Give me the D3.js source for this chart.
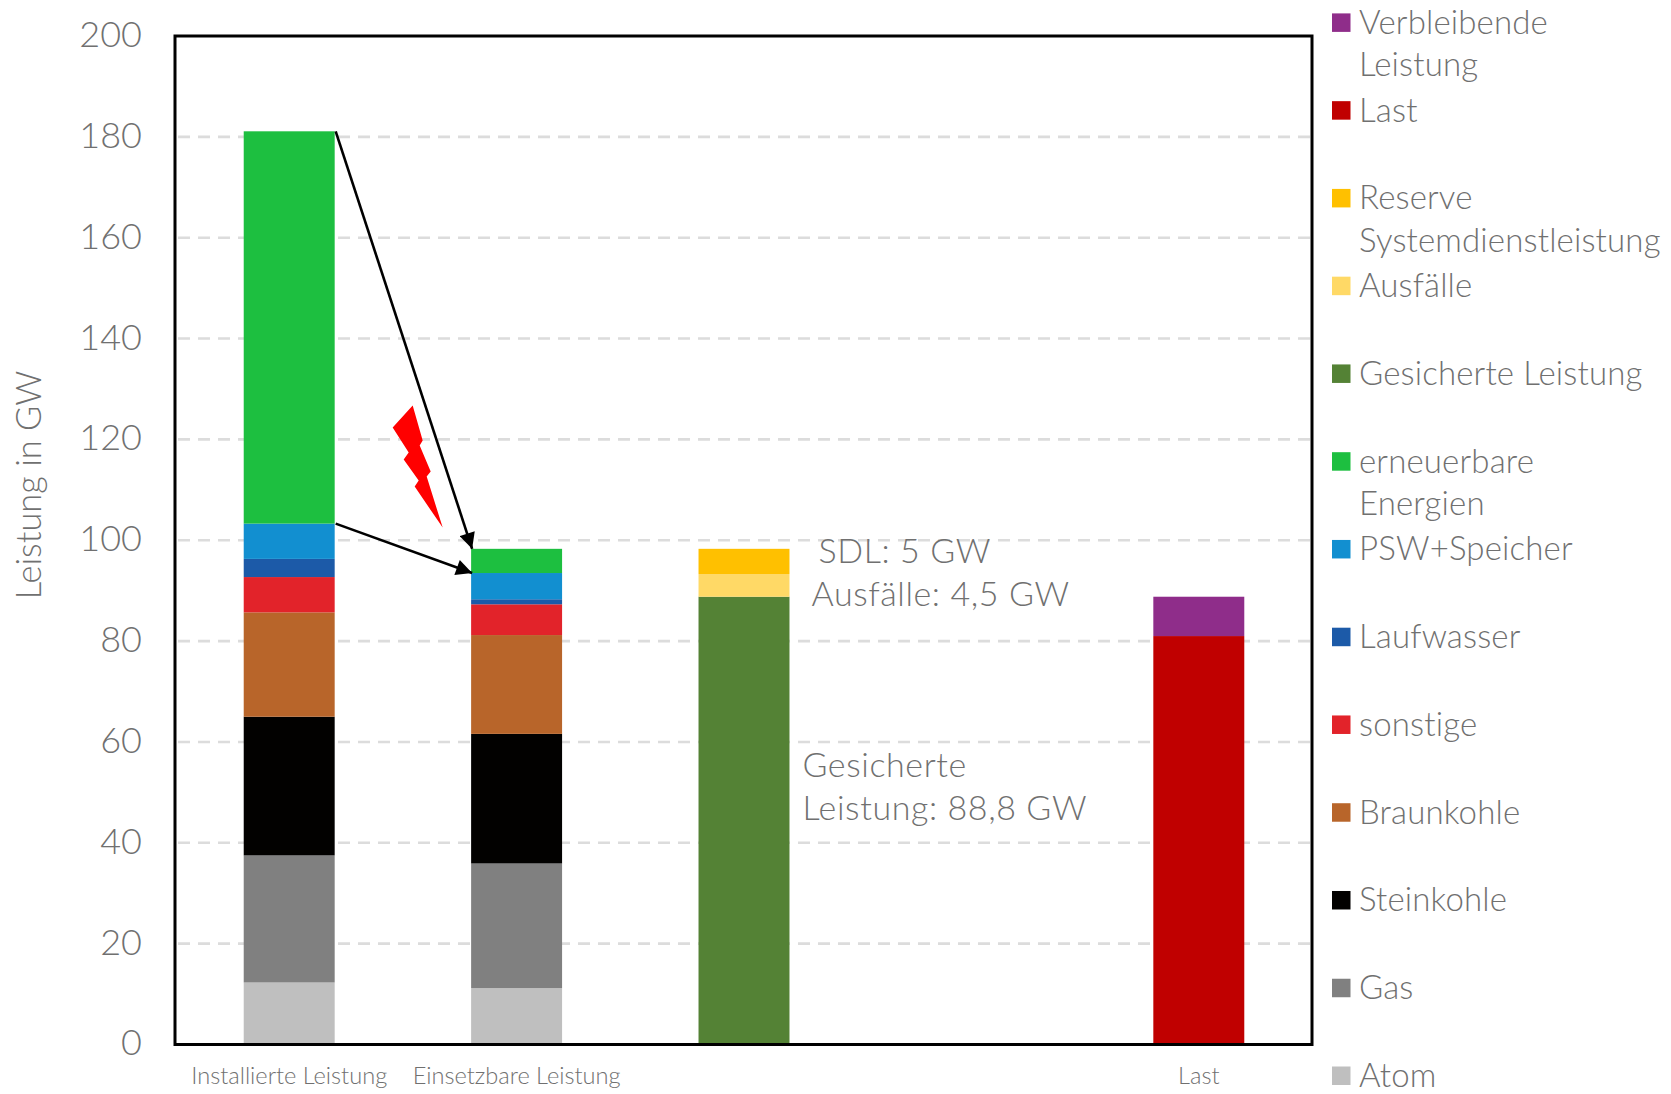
<!DOCTYPE html>
<html lang="de">
<head>
<meta charset="utf-8">
<title>Leistungsbilanz</title>
<script src="https://cdn.jsdelivr.net/npm/d3@7/dist/d3.min.js"></script>
<style>
  html, body { margin: 0; background: #fff; }
  svg { display: block; }
  text { font-family: Lato, "Open Sans", sans-serif; font-weight: 300; fill: #707070; }
</style>
</head>
<body>
<svg id="chart" width="1671" height="1094"></svg>
<script>
// Capacity balance: installed and usable capacity against secured capacity and load (GW)
const categories = ["Installierte Leistung", "Einsetzbare Leistung", "", "", "Last"];
const slots = ["a", "b", "c", "d", "e"];

const atom        = [12.3, 11.2, 0, 0, 0];
const gas         = [25.2, 24.7, 0, 0, 0];
const steinkohle  = [27.5, 25.7, 0, 0, 0];
const braunkohle  = [20.7, 19.6, 0, 0, 0];
const sonstige    = [7.0, 6.1, 0, 0, 0];
const laufwasser  = [3.6, 1.0, 0, 0, 0];
const speicher    = [7.0, 5.2, 0, 0, 0];
const erneuerbare = [77.8, 4.8, 0, 0, 0];
const gesichert   = [0, 0, 88.8, 0, 0];
const ausfaelle   = [0, 0, 4.5, 0, 0];
const reserve     = [0, 0, 5, 0, 0];
const lastValues  = [0, 0, 0, 0, 81.0];
const verbleibend = [0, 0, 0, 0, 7.8];

const seriesNames = ["Atom", "Gas", "Steinkohle", "Braunkohle", "sonstige", "Laufwasser",
  "PSW+Speicher", "erneuerbare Energien", "Gesicherte Leistung", "Ausfälle",
  "Reserve Systemdienstleistung", "Last", "Verbleibende Leistung"];
const seriesValues = [atom, gas, steinkohle, braunkohle, sonstige, laufwasser, speicher,
  erneuerbare, gesichert, ausfaelle, reserve, lastValues, verbleibend];
const seriesColors = ["#bfbfbf", "#808080", "#020100", "#b8652a", "#e2232a", "#1c5aa8",
  "#128fd0", "#1dbf40", "#548235", "#ffd966", "#ffc000", "#c00000", "#8f2d8a"];

const legendLines = [
  ["Verbleibende", "Leistung"], ["Last"], ["Reserve", "Systemdienstleistung"], ["Ausfälle"],
  ["Gesicherte Leistung"], ["erneuerbare", "Energien"], ["PSW+Speicher"], ["Laufwasser"],
  ["sonstige"], ["Braunkohle"], ["Steinkohle"], ["Gas"], ["Atom"]];
const legendColors = ["#8f2d8a", "#c00000", "#ffc000", "#ffd966", "#548235", "#1dbf40",
  "#128fd0", "#1c5aa8", "#e2232a", "#b8652a", "#020100", "#808080", "#bfbfbf"];

const yTicks = [0, 20, 40, 60, 80, 100, 120, 140, 160, 180, 200];
const notes = [
  { slot: "c", value: 95.4, dx: 29, text: "SDL: 5 GW" },
  { slot: "c", value: 86.9, dx: 22, text: "Ausfälle: 4,5 GW" },
  { slot: "c", value: 53.0, dx: 13, text: "Gesicherte" },
  { slot: "c", value: 44.5, dx: 13, text: "Leistung: 88,8 GW" }
];
// Bolt outline relative to its own top corner
const boltShape = [[0, 0], [10, 35], [7, 40], [18, 66], [14, 71], [30, 122], [2, 81], [6, 75],
  [-9, 54], [-4, 47], [-20, 22]];

const svg = d3.select("#chart");
const plotLeft = 175, plotRight = 1312, plotTop = 36, plotBottom = 1044.5;

const x = d3.scaleBand().domain(slots).range([plotLeft + 0.5, plotRight + 0.5]).paddingInner(0.6).paddingOuter(0.3);
const y = d3.scaleLinear().domain([0, 200]).range([plotBottom, plotTop]);

// Grid
svg.append("g").selectAll("line").data(yTicks.slice(1, -1)).join("line")
  .attr("x1", plotLeft + 3).attr("x2", plotRight)
  .attr("y1", d => y(d)).attr("y2", d => y(d))
  .attr("stroke", "#dcdcdc").attr("stroke-width", 2.6).attr("stroke-dasharray", "12 8");

// Stacked bars
const rows = slots.map((s, i) => {
  const row = { slot: s };
  seriesNames.forEach((n, k) => { row[n] = seriesValues[k][i]; });
  return row;
});
const stacked = d3.stack().keys(seriesNames)(rows);
svg.append("g").selectAll("g").data(stacked).join("g")
  .attr("fill", (d, i) => seriesColors[i])
  .selectAll("rect").data(d => d.filter(p => p[1] > p[0])).join("rect")
  .attr("x", d => x(d.data.slot))
  .attr("width", x.bandwidth())
  .attr("y", d => y(d[1]))
  .attr("height", d => y(d[0]) - y(d[1]));

// Plot frame
svg.append("rect").attr("x", plotLeft).attr("y", plotTop)
  .attr("width", plotRight - plotLeft).attr("height", plotBottom - plotTop)
  .attr("fill", "none").attr("stroke", "#000").attr("stroke-width", 3);

// Value axis labels
const yAxis = d3.axisLeft(y).tickValues(yTicks).tickSize(0).tickPadding(0);
const yG = svg.append("g").attr("transform", "translate(142,-2.5)").call(yAxis);
yG.select(".domain").remove();
yG.selectAll("text").attr("font-size", 36).attr("dy", "0.36em");

// Category labels
const xAxis = d3.axisBottom(x).tickFormat((d, i) => categories[i]).tickSize(0).tickPadding(0);
const xG = svg.append("g").attr("transform", "translate(0,1067)").call(xAxis);
xG.select(".domain").remove();
xG.selectAll("text").attr("font-size", 23.6).attr("dy", "0.71em");

// Value axis title
svg.append("text").attr("transform", "translate(41,485) rotate(-90)")
  .attr("text-anchor", "middle").attr("font-size", 34.4).text("Leistung in GW");

// Arrows from the installed column to the usable column
svg.append("defs").append("marker").attr("id", "head")
  .attr("viewBox", "0 0 10 10").attr("refX", 10).attr("refY", 5)
  .attr("markerUnits", "userSpaceOnUse").attr("markerWidth", 17).attr("markerHeight", 16)
  .attr("orient", "auto")
  .append("path").attr("d", "M0,0L10,5L0,10Z").attr("fill", "#000");
const topOf = (name, slotIndex) => stacked[seriesNames.indexOf(name)][slotIndex][1];
const arrowLinks = ["erneuerbare Energien", "PSW+Speicher"];
svg.append("g").selectAll("line").data(arrowLinks).join("line")
  .attr("x1", x("a") + x.bandwidth() + 1).attr("y1", d => y(topOf(d, 0)))
  .attr("x2", x("b") + 1).attr("y2", d => y(topOf(d, 1)))
  .attr("stroke", "#000").attr("stroke-width", 2.6).attr("marker-end", "url(#head)");

// Lightning bolt between the two columns
svg.append("polygon")
  .attr("transform", `translate(${x("a") + x.bandwidth() + 78},${y(126.7)})`)
  .attr("points", boltShape.map(p => p.join(",")).join(" "))
  .attr("fill", "#ff0000");

// Annotations next to the secured capacity column
svg.append("g").selectAll("text").data(notes).join("text")
  .attr("x", d => x(d.slot) + x.bandwidth() + d.dx)
  .attr("y", d => y(d.value))
  .attr("font-size", 34).attr("letter-spacing", 0.6).text(d => d.text);

// Legend, one entry per series
const legendY = d3.scaleLinear().domain([0, 12]).range([22.4, 1075.5]);
const legend = svg.append("g").selectAll("g").data(legendLines).join("g")
  .attr("transform", (d, i) => `translate(1332,${legendY(i)})`);
legend.append("rect").attr("x", 0).attr("y", -9).attr("width", 18.5).attr("height", 18.5)
  .attr("fill", (d, i) => legendColors[i]);
legend.selectAll("text").data(d => d).join("text")
  .attr("x", 27).attr("y", (d, i) => 11.5 + i * 42.6)
  .attr("font-size", 33).attr("letter-spacing", 0.15).text(d => d);
</script>
</body>
</html>
